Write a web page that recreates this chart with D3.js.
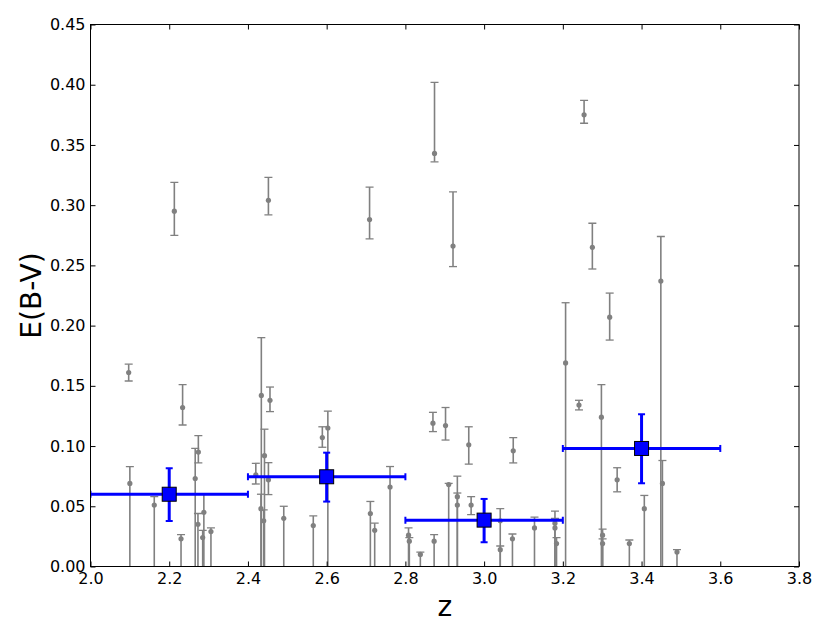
<!DOCTYPE html>
<html>
<head>
<meta charset="utf-8">
<script src="https://cdn.jsdelivr.net/npm/d3@7"></script>
<style>
  body { margin: 0; background: #fff; }
  svg { display: block; font-family: "DejaVu Sans", sans-serif; }
</style>
</head>
<body>
<svg id="chart" width="830" height="626"></svg>
<script>
// individual objects: redshift, E(B-V), lower / upper bound of the error bar (0 = reaches the axis)
var objZ = [2.097, 2.100, 2.162, 2.213, 2.230, 2.234, 2.266, 2.274, 2.273, 2.288, 2.285, 2.306,
  2.420, 2.434, 2.433, 2.442, 2.440, 2.452, 2.456, 2.452, 2.491, 2.566, 2.589, 2.603,
  2.709, 2.711, 2.722, 2.761, 2.808, 2.810, 2.838, 2.870, 2.873, 2.874, 2.902, 2.910,
  2.921, 2.932, 2.932, 2.961, 2.967, 3.041, 3.041, 3.072, 3.074, 3.128, 3.180, 3.180,
  3.184, 3.207, 3.241, 3.254, 3.275, 3.298, 3.301, 3.301, 3.319, 3.338, 3.369, 3.407,
  3.449, 3.453, 3.490];
var objEbv = [0.161, 0.069, 0.051, 0.295, 0.023, 0.132, 0.073, 0.095, 0.035, 0.045, 0.024, 0.029,
  0.076, 0.142, 0.048, 0.092, 0.038, 0.304, 0.138, 0.072, 0.040, 0.034, 0.107, 0.115,
  0.288, 0.044, 0.030, 0.066, 0.026, 0.021, 0.010, 0.119, 0.021, 0.343, 0.117, 0.068,
  0.266, 0.058, 0.051, 0.101, 0.051, 0.038, 0.014, 0.023, 0.096, 0.032, 0.036, 0.032,
  0.019, 0.169, 0.134, 0.375, 0.265, 0.124, 0.026, 0.019, 0.207, 0.072, 0.019, 0.048,
  0.237, 0.069, 0.012];
var objLow = [0.154, 0, 0, 0.275, 0, 0.1175, 0, 0.086, 0, 0, 0, 0,
  0.0685, 0, 0, 0, 0, 0.292, 0.1286, 0.0597, 0, 0, 0.099, 0,
  0.272, 0, 0, 0, 0, 0, 0, 0.112, 0, 0.336, 0.105, 0,
  0.249, 0, 0, 0.085, 0.043, 0, 0, 0, 0.086, 0, 0, 0,
  0, 0, 0.130, 0.368, 0.247, 0, 0, 0, 0.188, 0.062, 0, 0,
  0, 0, 0];
var objHigh = [0.168, 0.083, 0.058, 0.319, 0.0265, 0.151, 0.098, 0.1087, 0.044, 0.060, 0.030, 0.032,
  0.0857, 0.190, 0.060, 0.114, 0.047, 0.323, 0.149, 0.0862, 0.050, 0.042, 0.116, 0.129,
  0.315, 0.054, 0.036, 0.083, 0.032, 0.024, 0.012, 0.128, 0.0265, 0.402, 0.132, 0.069,
  0.311, 0.075, 0.061, 0.116, 0.058, 0.048, 0.017, 0.027, 0.107, 0.041, 0.046, 0.040,
  0.024, 0.219, 0.138, 0.387, 0.285, 0.151, 0.031, 0.023, 0.227, 0.082, 0.022, 0.059,
  0.274, 0.088, 0.014];

// binned means
var binZ = [2.2, 2.6, 3.0, 3.4];
var binHalfWidth = [0.2, 0.2, 0.2, 0.2];
var binEbv = [0.060, 0.0745, 0.0385, 0.098];
var binLow = [0.0378, 0.0539, 0.0202, 0.0691];
var binHigh = [0.0816, 0.0945, 0.0561, 0.1264];

var xTicks = [2.0, 2.2, 2.4, 2.6, 2.8, 3.0, 3.2, 3.4, 3.6, 3.8];
var yTicks = [0, 0.05, 0.10, 0.15, 0.20, 0.25, 0.30, 0.35, 0.40, 0.45];

var margin = { top: 24.5, right: 31, bottom: 59.5, left: 90.5 };
var width = 830 - margin.left - margin.right;
var height = 626 - margin.top - margin.bottom;

var svg = d3.select("#chart");
var g = svg.append("g")
    .attr("transform", "translate(" + margin.left + "," + margin.top + ")");

var x = d3.scaleLinear().domain([2.0, 3.8]).range([0, width]);
var y = d3.scaleLinear().domain([0, 0.45]).range([height, 0]);

g.append("clipPath").attr("id", "clip")
  .append("rect").attr("width", width).attr("height", height);

var plot = g.append("g").attr("clip-path", "url(#clip)");

var grey = "#808080";
var objects = objZ.map(function (z, i) {
    return { z: z, v: objEbv[i], lo: objLow[i], hi: objHigh[i] };
});

// grey error bars
plot.selectAll("line.obj-err")
    .data(objects).enter().append("line")
    .attr("class", "obj-err")
    .attr("x1", function (d) { return x(d.z); })
    .attr("x2", function (d) { return x(d.z); })
    .attr("y1", function (d) { return y(d.lo) + (d.lo === 0 ? 2 : 0); })
    .attr("y2", function (d) { return y(d.hi); })
    .attr("stroke", grey).attr("stroke-width", 1.6);

var caps = [];
objects.forEach(function (d) {
    caps.push({ z: d.z, v: d.hi });
    if (d.lo > 0) caps.push({ z: d.z, v: d.lo });
});
plot.selectAll("line.obj-cap")
    .data(caps).enter().append("line")
    .attr("class", "obj-cap")
    .attr("x1", function (d) { return x(d.z) - 4; })
    .attr("x2", function (d) { return x(d.z) + 4; })
    .attr("y1", function (d) { return y(d.v); })
    .attr("y2", function (d) { return y(d.v); })
    .attr("stroke", grey).attr("stroke-width", 1.3);

plot.selectAll("circle.obj")
    .data(objects).enter().append("circle")
    .attr("class", "obj")
    .attr("cx", function (d) { return x(d.z); })
    .attr("cy", function (d) { return y(d.v); })
    .attr("r", 2.6)
    .attr("fill", grey);

// blue binned points
var bins = binZ.map(function (z, i) {
    return { z: z, w: binHalfWidth[i], v: binEbv[i], lo: binLow[i], hi: binHigh[i] };
});
var blue = "#0000ff";
var bg = plot.selectAll("g.bin").data(bins).enter().append("g").attr("class", "bin");

bg.append("line")
    .attr("x1", function (d) { return x(d.z - d.w); })
    .attr("x2", function (d) { return x(d.z + d.w); })
    .attr("y1", function (d) { return y(d.v); })
    .attr("y2", function (d) { return y(d.v); })
    .attr("stroke", blue).attr("stroke-width", 3);
bg.append("line")
    .attr("x1", function (d) { return x(d.z); })
    .attr("x2", function (d) { return x(d.z); })
    .attr("y1", function (d) { return y(d.lo); })
    .attr("y2", function (d) { return y(d.hi); })
    .attr("stroke", blue).attr("stroke-width", 3);
[-1, 1].forEach(function (s) {
    bg.append("line")
        .attr("x1", function (d) { return x(d.z + s * d.w); })
        .attr("x2", function (d) { return x(d.z + s * d.w); })
        .attr("y1", function (d) { return y(d.v) - 3.5; })
        .attr("y2", function (d) { return y(d.v) + 3.5; })
        .attr("stroke", blue).attr("stroke-width", 2);
    bg.append("line")
        .attr("x1", function (d) { return x(d.z) - 3.5; })
        .attr("x2", function (d) { return x(d.z) + 3.5; })
        .attr("y1", function (d) { return y(s < 0 ? d.lo : d.hi); })
        .attr("y2", function (d) { return y(s < 0 ? d.lo : d.hi); })
        .attr("stroke", blue).attr("stroke-width", 2);
});
bg.append("rect")
    .attr("x", function (d) { return x(d.z) - 7; })
    .attr("y", function (d) { return y(d.v) - 7; })
    .attr("width", 14).attr("height", 14)
    .attr("fill", blue).attr("stroke", "#000").attr("stroke-width", 1);

// axes: ticks inward on all four sides
var tickLen = 5;
var fmtX = d3.format(".1f"), fmtY = d3.format(".2f");
g.append("g").attr("transform", "translate(0," + height + ")")
    .call(d3.axisBottom(x).tickValues(xTicks).tickSizeInner(-tickLen).tickSizeOuter(0).tickPadding(6).tickFormat(fmtX));
g.append("g")
    .call(d3.axisTop(x).tickValues(xTicks).tickSizeInner(-tickLen).tickSizeOuter(0).tickFormat(""));
g.append("g")
    .call(d3.axisLeft(y).tickValues(yTicks).tickSizeInner(-tickLen).tickSizeOuter(0).tickPadding(5).tickFormat(fmtY));
g.append("g").attr("transform", "translate(" + width + ",0)")
    .call(d3.axisRight(y).tickValues(yTicks).tickSizeInner(-tickLen).tickSizeOuter(0).tickFormat(""));

g.selectAll(".domain").remove();
g.selectAll(".tick line").attr("stroke", "#000").attr("stroke-width", 1);
g.selectAll(".tick text")
    .attr("fill", "#000")
    .style("font-family", "'DejaVu Sans', sans-serif")
    .style("font-size", "16px");

g.append("rect")
    .attr("width", width).attr("height", height)
    .attr("fill", "none").attr("stroke", "#000").attr("stroke-width", 1);

g.append("text")
    .attr("x", width / 2).attr("y", height + 49)
    .attr("text-anchor", "middle")
    .style("font-size", "28px")
    .text("z");

g.append("text")
    .attr("transform", "translate(-50," + (height / 2) + ") rotate(-90)")
    .attr("text-anchor", "middle")
    .style("font-size", "28px")
    .text("E(B-V)");
</script>
</body>
</html>
